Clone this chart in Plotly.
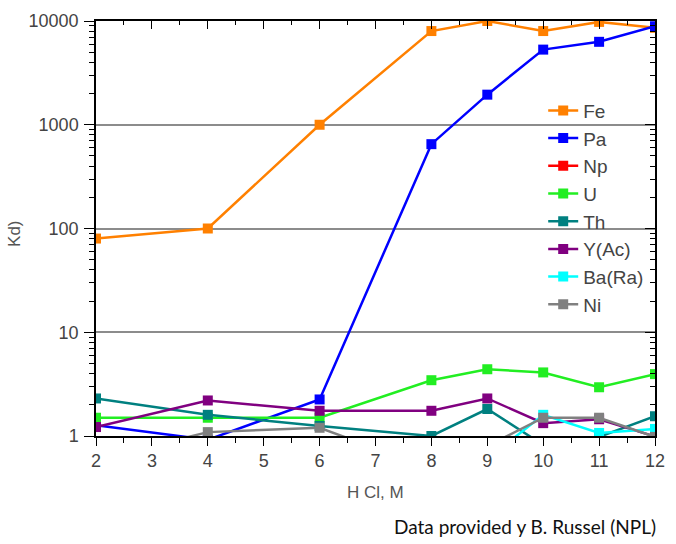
import plotly.graph_objects as go

hcl = [2, 4, 6, 8, 9, 10, 11, 12]

fe = [80, 100, 1000, 8000, 10000, 8000, 9800, 8600]
pa = [1.27, 0.92, 2.25, 650, 1950, 5300, 6300, 8900]
np_ = [0.6, 0.5, 0.7, 0.8, 0.7, 0.6, 0.5, 0.6]
u = [1.5, 1.5, 1.5, 3.45, 4.4, 4.1, 2.95, 3.95]
th = [2.3, 1.6, 1.25, 1.0, 1.82, 0.82, 0.98, 1.55]
y_ac = [1.22, 2.2, 1.75, 1.75, 2.3, 1.33, 1.45, 0.99]
ba_ra = [0.5, 0.5, 0.5, 0.5, 0.6, 1.6, 1.07, 1.17]
ni = [0.59, 1.09, 1.2, 0.48, 0.8, 1.5, 1.5, 0.98]

series = [
    ("Fe", fe, "#FF8000"),
    ("Pa", pa, "#0000FF"),
    ("Np", np_, "#FF0000"),
    ("U", u, "#22EE22"),
    ("Th", th, "#008080"),
    ("Y(Ac)", y_ac, "#800080"),
    ("Ba(Ra)", ba_ra, "#00FFFF"),
    ("Ni", ni, "#808080"),
]

x_ticks = list(range(2, 13))
y_tickvals = [1, 10, 100, 1000, 10000]
y_ticktext = ["1", "10", "100", "1000", "10000"]
y_minor = [m * d for d in (1, 10, 100, 1000) for m in range(2, 10)]

fig = go.Figure()
for name, vals, col in series:
    fig.add_trace(go.Scatter(
        x=hcl, y=vals, name=name, mode="lines+markers",
        line=dict(color=col, width=2.5),
        marker=dict(symbol="square", size=10, color=col),
        cliponaxis=True,
    ))

# empty trace to anchor mirrored axes
fig.add_trace(go.Scatter(x=[], y=[], xaxis="x2", yaxis="y2", showlegend=False))

tick_font = dict(family="Liberation Sans, Arial", size=18, color="#444444")

fig.update_layout(
    width=676, height=544,
    margin=dict(l=96, r=11, t=20, b=108),
    plot_bgcolor="white", paper_bgcolor="white",
    showlegend=True,
    legend=dict(
        x=0.8, y=0.83, xanchor="left", yanchor="top",
        bgcolor="rgba(0,0,0,0)",
        font=dict(family="Liberation Sans, Arial", size=19, color="#444444"),
        tracegroupgap=0,
    ),
    xaxis=dict(
        range=[2, 12], tickvals=x_ticks, ticks="outside", ticklen=8, tickwidth=1.2,
        tickcolor="black", showline=True, linecolor="black", linewidth=1.5,
        showgrid=False, zeroline=False, tickfont=tick_font,
        minor=dict(dtick=0.5, tick0=2, ticks="outside", ticklen=5, tickcolor="black", showgrid=False),
    ),
    yaxis=dict(
        type="log", range=[0, 4], tickvals=y_tickvals, ticktext=y_ticktext,
        ticks="outside", ticklen=10, tickwidth=1.2, tickcolor="black",
        showline=True, linecolor="black", linewidth=1.5,
        showgrid=True, gridcolor="#8C8C8C", gridwidth=1.5,
        zeroline=False, tickfont=tick_font, ticklabelstandoff=2,
        minor=dict(tickmode="array", tickvals=y_minor, ticks="outside", ticklen=5,
                   tickcolor="black", showgrid=False),
    ),
    xaxis2=dict(
        overlaying="x", side="top", anchor="y2", range=[2, 12], tickvals=x_ticks,
        ticks="inside", ticklen=8, tickcolor="black", showticklabels=False,
        showline=True, linecolor="black", linewidth=1.5, showgrid=False, zeroline=False,
        minor=dict(dtick=0.5, tick0=2, ticks="inside", ticklen=4, tickcolor="black", showgrid=False),
    ),
    yaxis2=dict(
        overlaying="y", side="right", anchor="x2", type="log", range=[0, 4],
        tickvals=y_tickvals, ticks="inside", ticklen=10, tickcolor="black",
        showticklabels=False, showline=True, linecolor="black", linewidth=1.5,
        showgrid=False, zeroline=False,
        minor=dict(tickmode="array", tickvals=y_minor, ticks="inside", ticklen=5,
                   tickcolor="black", showgrid=False),
    ),
)

# annotations placed by pixel position, converted to paper coords
plot_l, plot_r, plot_t, plot_b = 96, 665, 20, 436
pw, ph = plot_r - plot_l, plot_b - plot_t


def px(xp, yp):
    return (xp - plot_l) / pw, (plot_b - yp) / ph


ax, ay = px(381, 493)
fx, fy = px(668, 527)
kx, ky = px(13, 233)
fig.update_layout(annotations=[
    dict(text="H Cl, M", x=ax, y=ay, xref="paper", yref="paper", showarrow=False,
         xanchor="center", yanchor="middle",
         font=dict(family="Liberation Sans, Arial", size=17, color="#555555")),
    dict(text="Data provided y B. Russel (NPL)", x=fx, y=fy, xref="paper", yref="paper",
         showarrow=False, xanchor="right", yanchor="middle",
         font=dict(family="Lato, Open Sans", size=19, color="#111111")),
    dict(text="Kd)", x=kx, y=ky, xref="paper", yref="paper", showarrow=False,
         textangle=-90, xanchor="center", yanchor="middle",
         font=dict(family="Liberation Sans, Arial", size=17, color="#555555")),
])

fig.write_html("out.html")
